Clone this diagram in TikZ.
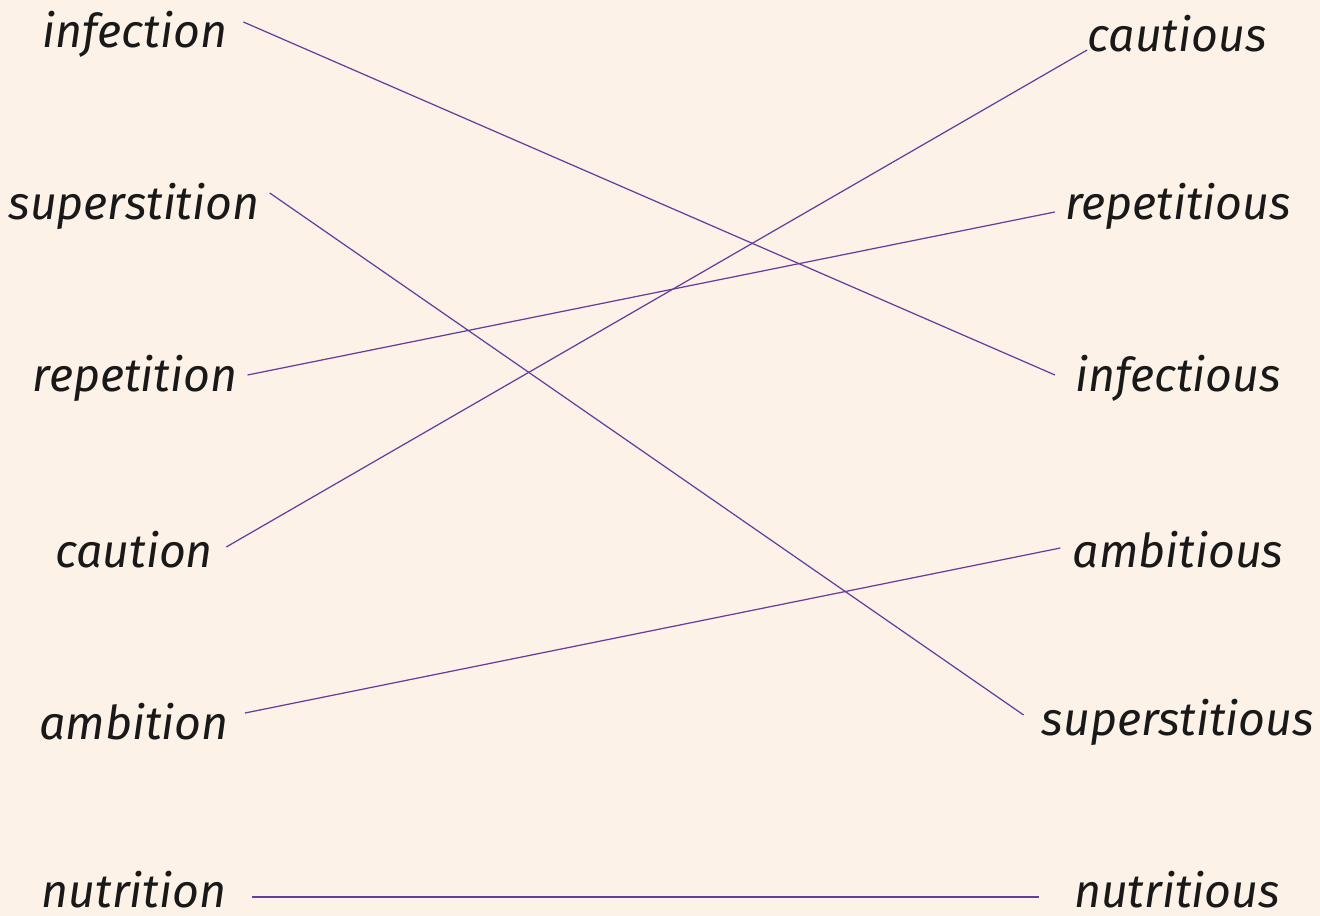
\documentclass[tikz,border=0pt]{standalone}
\usepackage{fontspec}
\setmainfont{Fira Sans}
\usepackage{tikz}
\usetikzlibrary{positioning}
\definecolor{paper}{RGB}{252,242,231}
\definecolor{linkpurple}{RGB}{104,60,158}

\begin{document}
\begin{tikzpicture}[x=0.02cm,y=-0.02cm,
  word/.style={inner sep=0pt,font=\fontsize{26.5}{30}\selectfont\itshape,text=black!90},
  link/.style={draw=linkpurple,line width=0.7pt}]
\fill[paper] (0,0) rectangle (1320,916);
\useasboundingbox (0,0) rectangle (1320,916);
% left column
\node at (135,34)[word](infection){infection};
\node at (134,206)[word](superstition){superstition};
\node at (135,378)[word](repetition){repetition};
\node at (134,550)[word](caution){caution};
\node at (134,722)[word](ambition){ambition};
\node at (134,890)[word](nutrition){nutrition};
% right column
\node at (1177,34)[word](cautious){cautious};
\node at (1178,206)[word](repetitious){repetitious};
\node at (1178,378)[word](infectious){infectious};
\node at (1178,550)[word](ambitious){ambitious};
\node at (1178,722)[word](superstitious){superstitious};
\node at (1177,890)[word](nutritious){nutritious};
% matching lines
\draw[link] ([shift={(16,-12)}]infection.east) -- ([shift={(-20,-3)}]infectious.west);
\draw[link] ([shift={(10,-13)}]superstition.east) -- ([shift={(-18,-7)}]superstitious.west);
\draw[link] ([shift={(10,-3)}]repetition.east) -- ([shift={(-10,6)}]repetitious.west);
\draw[link] ([shift={(13,-3)}]caution.east) -- ([shift={(0,16)}]cautious.west);
\draw[link] ([shift={(16,-9)}]ambition.east) -- ([shift={(-12,-2)}]ambitious.west);
\draw[link,line width=0.9pt] ([shift={(25,7)}]nutrition.east) -- ([shift={(-35,7)}]nutritious.west);
\end{tikzpicture}
\end{document}
